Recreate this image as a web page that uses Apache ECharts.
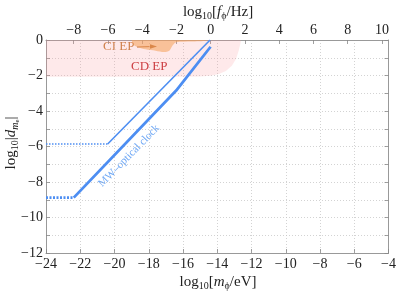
<!DOCTYPE html>
<html><head><meta charset="utf-8">
<script src="https://cdn.jsdelivr.net/npm/echarts@6/dist/echarts.min.js"></script>
<style>html,body{margin:0;padding:0;background:#fff}#c{width:399px;height:295px}</style>
</head><body><div id="c"></div>
<script>
// data (log10 m_phi [eV], log10 |d_me|)
const xTicks = [-24,-22,-20,-18,-16,-14,-12,-10,-8,-6,-4];
const yTicks = [0,-2,-4,-6,-8,-10,-12];
const topTicks = [-8,-6,-4,-2,0,2,4,6,8,10];
const freqOffset = 14.383; // log10 f = log10 m + 14.383
const cdEP = [[-24,-2.07],[-16,-2.07],[-15,-2.06],[-14.4,-2.02],[-13.9,-1.92],[-13.5,-1.75],[-13.15,-1.45],[-12.9,-1.05],[-12.75,-0.6],[-12.65,-0.2],[-12.62,0]];
const ciEP = [[-19.0,0],[-18.9,-0.25],[-18.6,-0.42],[-18.2,-0.52],[-17.6,-0.6],[-17.1,-0.68],[-16.8,-0.6],[-16.6,-0.3],[-16.4,-0.12],[-15.5,-0.08],[-14.8,-0.05],[-14.5,0]];
const thinDotted = [[-24,-5.86],[-20.4,-5.86]];
const thinSolid = [[-20.4,-5.86],[-14.42,0]];
const thickDotted = [[-24,-8.88],[-22.38,-8.88]];
const thickSolid = [[-22.38,-8.88],[-16.4,-2.85],[-14.39,-0.38]];

const minus = v => String(v).replace('-', '\u2212');
const FONT = 'Liberation Serif';
const TXT = '#222';
const blue = '#4d8ef2';
const chart = echarts.init(document.getElementById('c'));
const tickStyle = {show:true, inside:true, length:4, lineStyle:{color:'#888', width:0.8}};
const axisLine = {show:true, onZero:false, lineStyle:{color:'#999', width:1}};
const lab = {color:TXT, fontSize:14, fontFamily:FONT};
const rich = {n:{fontSize:15, fontFamily:FONT, fill:TXT}, i:{fontSize:15, fontFamily:FONT, fontStyle:'italic', fill:TXT},
              s:{fontSize:10, fontFamily:FONT, fill:TXT, padding:[8,0,0,0]},
              si:{fontSize:10, fontFamily:FONT, fontStyle:'italic', fill:TXT, padding:[8,0,0,0]},
              t:{fontSize:7, fontFamily:FONT, fill:TXT, padding:[12,0,0,0]}};
chart.setOption({
  animation:false,
  textStyle:{fontFamily:FONT},
  grid:{left:46, right:7, top:40, bottom:42},
  xAxis:[
    {type:'value', min:-24, max:-4, interval:2, position:'bottom',
     axisLine, axisTick:tickStyle,
     axisLabel:Object.assign({formatter:minus, margin:4}, lab),
     splitLine:{show:true, lineStyle:{type:[1,2], color:'#c8c8c8', width:0.8}}},
    {type:'value', min:-24+freqOffset, max:-4+freqOffset, position:'top',
     axisLine, axisTick:Object.assign({customValues:topTicks}, tickStyle),
     axisLabel:Object.assign({customValues:topTicks, formatter:minus, margin:3}, lab),
     splitLine:{show:false}}
  ],
  yAxis:[
    {type:'value', min:-12, max:0, interval:1, position:'left',
     axisLine, axisTick:tickStyle,
     axisLabel:Object.assign({formatter:v => (v % 2 === 0 ? minus(v) : ''), margin:3}, lab),
     splitLine:{show:true, lineStyle:{type:[1,2], color:'#c8c8c8', width:0.8}}},
    {type:'value', min:-12, max:0, interval:1, position:'right',
     axisLine, axisTick:tickStyle, axisLabel:{show:false}, splitLine:{show:false}}
  ],
  series:[
    {type:'line', data:cdEP, symbol:'none', lineStyle:{width:0, opacity:0},
     areaStyle:{origin:'end', color:'rgba(250,150,155,0.3)'}, z:1},
    {type:'line', data:ciEP, symbol:'none', smooth:0.3, lineStyle:{width:0, opacity:0},
     areaStyle:{origin:'end', color:'rgba(245,160,90,0.8)'}, z:2},
    {type:'line', data:thinDotted, symbol:'none', lineStyle:{color:blue, width:1.6, type:[1.5,1.5]}, z:3},
    {type:'line', data:thinSolid, symbol:'none', lineStyle:{color:blue, width:1.6}, z:3},
    {type:'line', data:thickDotted, symbol:'none', lineStyle:{color:blue, width:2.8, type:[2,1.5]}, z:3},
    {type:'line', data:thickSolid, symbol:'none', lineStyle:{color:blue, width:2.8}, z:3}
  ],
  graphic:[
    {type:'text', x:218, y:12, style:{
      text:'{n|log}{s|10}{n|[}{i|f}{s|ϕ}{n|/Hz]}', align:'center', verticalAlign:'middle', rich}},
    {type:'text', x:218, y:282, style:{
      text:'{n|log}{s|10}{n|[}{i|m}{s|ϕ}{n|/eV]}', align:'center', verticalAlign:'middle', rich}},
    {type:'text', x:11, y:143, rotation:Math.PI/2, style:{
      text:'{n|log}{s|10}{n||}{i|d}{si|m}{t|e}{n||}', align:'center', verticalAlign:'middle', rich}},
    {type:'text', x:103, y:40, style:{text:'CI EP', fontSize:13, fontFamily:FONT, fill:'#c47a35'}},
    {type:'line', shape:{x1:137, y1:47, x2:153, y2:46.5}, style:{stroke:'#a85a1c', lineWidth:1}},
    {type:'polygon', shape:{points:[[157,46.4],[150,44.2],[150,48.8]]}, style:{fill:'#a85a1c'}},
    {type:'text', x:131, y:60, style:{text:'CD EP', fontSize:13, fontFamily:FONT, fill:'#c0262a'}},
    {type:'text', x:129, y:156, rotation:Math.PI/4 + 0.01, style:{text:'MW–optical clock', align:'center', verticalAlign:'middle', fontSize:11, fontFamily:FONT, fill:'#6fa8f5'}}
  ]
});
</script></body></html>
